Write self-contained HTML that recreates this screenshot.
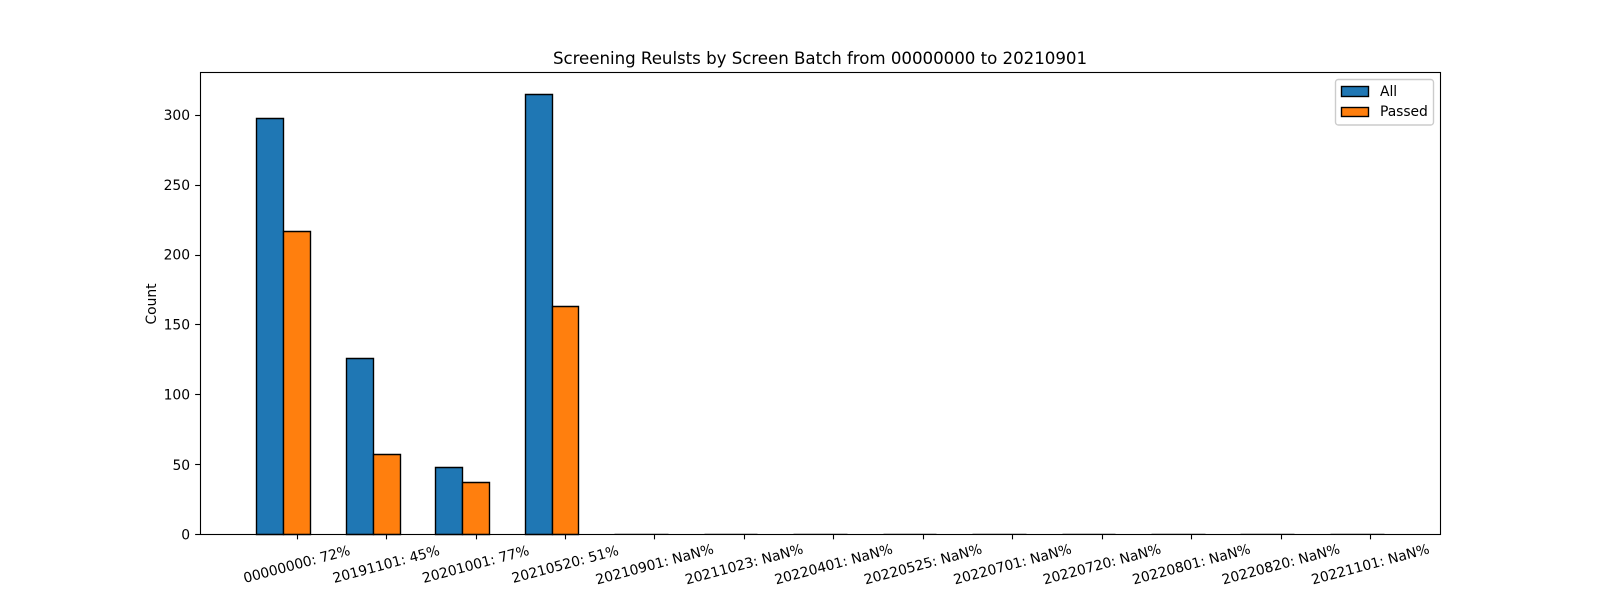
<!DOCTYPE html>
<html>
<head>
<meta charset="utf-8">
<style>
html,body{margin:0;padding:0;background:#fff;}
svg{display:block;}
text{font-family:"DejaVu Sans",sans-serif;font-size:13.89px;fill:#000;letter-spacing:-0.05px;}
</style>
</head>
<body>
<svg id="chart" width="1600" height="600" viewBox="0 0 1600 600" xmlns="http://www.w3.org/2000/svg">
  <rect x="0" y="0" width="1600" height="600" fill="#fff"/>
  <text x="820" y="64" text-anchor="middle" style="font-size:16.67px;letter-spacing:-0.035px">Screening Reulsts by Screen Batch from 00000000 to 20210901</text>
  <text x="0" y="0" text-anchor="middle" transform="translate(156,304) rotate(-90)">Count</text>
  <g id="bars"></g>
  <g id="xticks"></g>
  <g id="yticks"></g>
  <rect x="200.5" y="72.5" width="1240" height="462" fill="none" stroke="#000" stroke-width="1.11"/>
  <g>
    <rect x="1335.5" y="79.5" width="98" height="45.5" rx="2.8" fill="#fff" fill-opacity="0.8" stroke="#ccc" stroke-width="1.39"/>
    <rect x="1341.5" y="86.5" width="27" height="10" fill="#1f77b4" stroke="#000" stroke-width="1.39"/>
    <text x="1380" y="96">All</text>
    <rect x="1341.5" y="107.5" width="27" height="9" fill="#ff7f0e" stroke="#000" stroke-width="1.39"/>
    <text x="1380" y="116">Passed</text>
  </g>
</svg>
<script>
const categories = ["00000000: 72%", "20191101: 45%", "20201001: 77%", "20210520: 51%", "20210901: NaN%", "20211023: NaN%", "20220401: NaN%", "20220525: NaN%", "20220701: NaN%", "20220720: NaN%", "20220801: NaN%", "20220820: NaN%", "20221101: NaN%"];
const allCounts = [298, 126, 48, 315, 0, 0, 0, 0, 0, 0, 0, 0, 0];
const passedCounts = [217, 57, 37, 163, 0, 0, 0, 0, 0, 0, 0, 0, 0];
const yTicks = [0, 50, 100, 150, 200, 250, 300];

const SVGNS = 'http://www.w3.org/2000/svg';
const plotLeft = 200, plotRight = 1440, plotTop = 72, plotBottom = 534;
const barWidthUnits = 0.3;

const maxValue = Math.max(...allCounts, ...passedCounts);
const yMax = maxValue * 1.05;
const xLow = -0.45, xHigh = (categories.length - 1) + 0.15;
const xPad = (xHigh - xLow) * 0.05;
const xMin = xLow - xPad, xMax = xHigh + xPad;

function xScale(v) { return plotLeft + (v - xMin) / (xMax - xMin) * (plotRight - plotLeft); }
function yScale(v) { return plotBottom - v / yMax * (plotBottom - plotTop); }
function snap(p) { return Math.floor(p + 0.5) + 0.5; }

function make(tag, attrs) {
  const el = document.createElementNS(SVGNS, tag);
  for (const k in attrs) el.setAttribute(k, attrs[k]);
  return el;
}

const barsGroup = document.getElementById('bars');
const xGroup = document.getElementById('xticks');
const yGroup = document.getElementById('yticks');

function drawBar(center, value, color) {
  const x0 = snap(xScale(center - barWidthUnits / 2));
  const x1 = snap(xScale(center + barWidthUnits / 2));
  const y0 = snap(yScale(value));
  const y1 = snap(plotBottom);
  if (y0 === y1) {
    /* a zero-height bar shows only as a faint hairline resting on the axis */
    return make('path', { d: 'M' + x0 + ' ' + (y0 - 1) + 'L' + x1 + ' ' + (y0 - 1), fill: 'none', stroke: '#ccc', 'stroke-width': 1 });
  }
  const d = 'M' + x0 + ' ' + y1 + 'L' + x0 + ' ' + y0 + 'L' + x1 + ' ' + y0 + 'L' + x1 + ' ' + y1 + 'Z';
  return make('path', { d: d, fill: color, stroke: '#000', 'stroke-width': 1.39 });
}

categories.forEach(function (label, i) {
  const allBar = drawBar(i - barWidthUnits, allCounts[i], '#1f77b4');
  
  
  barsGroup.appendChild(allBar);

  const passedBar = drawBar(i, passedCounts[i], '#ff7f0e');
  
  
  barsGroup.appendChild(passedBar);

  const tx = xScale(i);
  const stx = snap(tx);
  const tick = make('line', { x1: stx, x2: stx, y1: plotBottom, y2: plotBottom + 5.36, stroke: '#000', 'stroke-width': 1.11 });
  
  
  xGroup.appendChild(tick);

  const t = make('text', { x: 0, y: 5, 'text-anchor': 'middle', transform: 'translate(' + tx + ',564) rotate(-15)' });
  t.textContent = label;
  
  
  xGroup.appendChild(t);
});

yTicks.forEach(function (v) {
  const py = yScale(v);
  const spy = snap(py);
  const tick = make('line', { x1: plotLeft - 4.86, x2: plotLeft, y1: spy, y2: spy, stroke: '#000', 'stroke-width': 1.11 });
  
  
  yGroup.appendChild(tick);

  const t = make('text', { x: plotLeft - 10, y: py + 5 + 0.6 * (plotBottom - py < 100 ? 1 : 0), 'text-anchor': 'end' });
  t.textContent = String(v);
  
  
  yGroup.appendChild(t);
});
</script>
</body>
</html>
